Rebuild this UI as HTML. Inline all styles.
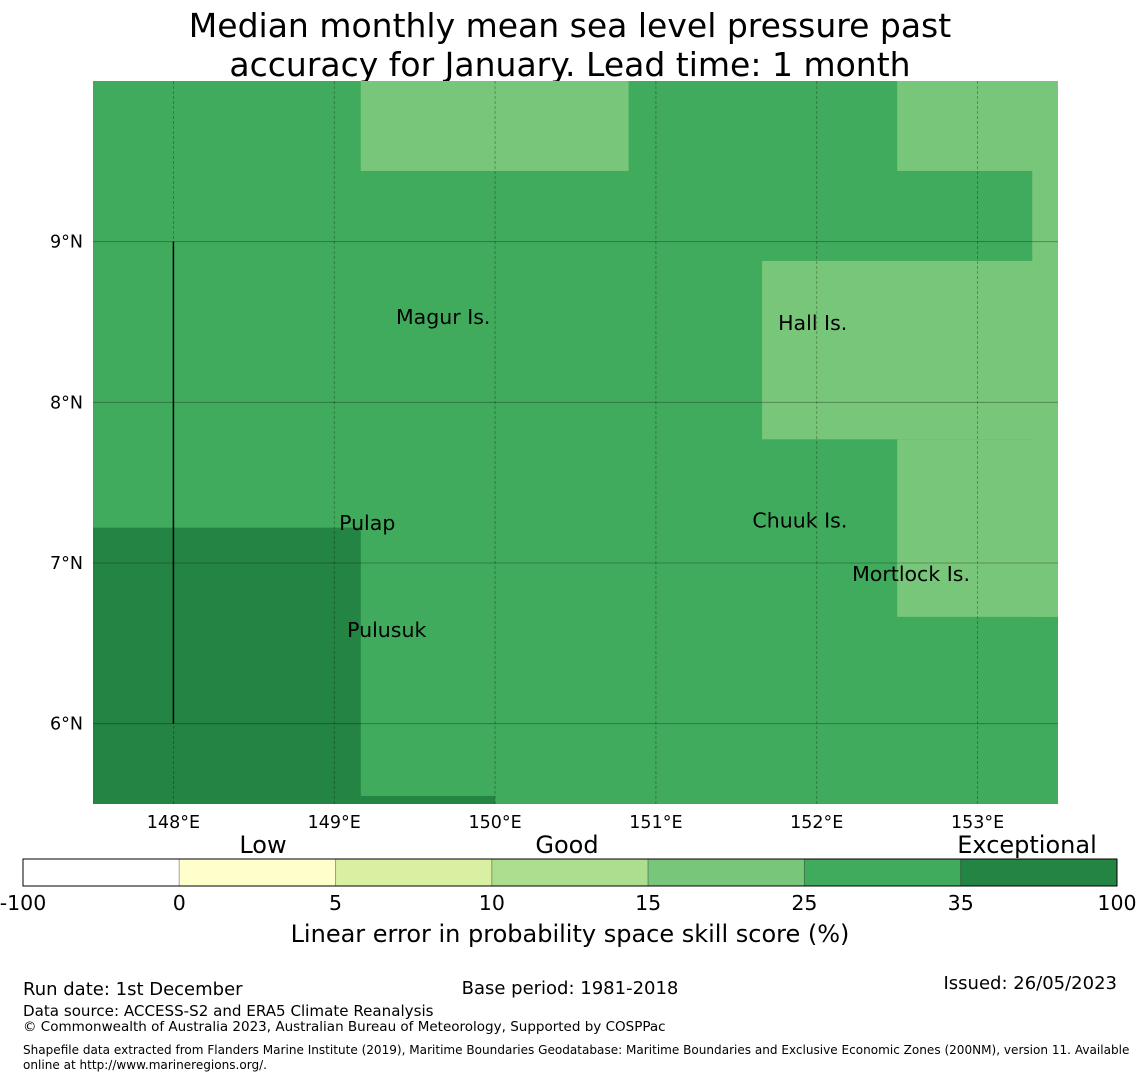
<!DOCTYPE html>
<html><head><meta charset="utf-8"><style>
body{margin:0;background:#fff;font-family:"DejaVu Sans","Liberation Sans",sans-serif;}
svg text{font-family:"DejaVu Sans","Liberation Sans",sans-serif;}
</style></head><body>
<svg id="c" width="1140" height="1080" xmlns="http://www.w3.org/2000/svg">
<text x="570" y="37" font-size="33" text-anchor="middle">Median monthly mean sea level pressure past</text>
<text x="570" y="76" font-size="33" text-anchor="middle">accuracy for January. Lead time: 1 month</text>
<g id="map"></g>
<g id="cb"></g>
<text x="570" y="942" font-size="24" text-anchor="middle">Linear error in probability space skill score (%)</text>
<text x="263" y="853" font-size="24" text-anchor="middle">Low</text>
<text x="567" y="853" font-size="24" text-anchor="middle">Good</text>
<text x="1027" y="853" font-size="24" text-anchor="middle">Exceptional</text>
<text x="23" y="995" font-size="18">Run date: 1st December</text>
<text x="570" y="994" font-size="18" text-anchor="middle">Base period: 1981-2018</text>
<text x="1117" y="989" font-size="18" text-anchor="end">Issued: 26/05/2023</text>
<text x="23" y="1016" font-size="15.1">Data source: ACCESS-S2 and ERA5 Climate Reanalysis</text>
<text x="23" y="1031" font-size="13.5">© Commonwealth of Australia 2023, Australian Bureau of Meteorology, Supported by COSPPac</text>
<text x="23" y="1054" font-size="12.05">Shapefile data extracted from Flanders Marine Institute (2019), Maritime Boundaries Geodatabase: Maritime Boundaries and Exclusive Economic Zones (200NM), version 11. Available</text>
<text x="23" y="1069" font-size="12.05">online at http://www.marineregions.org/.</text>
</svg>
<script>
const lonTicks=[148,149,150,151,152,153];
const latTicks=[6,7,8,9];
// regions: [lon0, lon1, lat0, lat1, colorIndex]
const regionLon0=[149.165,152.5,153.34,151.66,152.5,147.5,149.165];
const regionLon1=[150.83,153.5,153.5,153.5,153.5,149.165,150.0];
const regionLat0=[9.44,9.44,6.665,7.77,6.665,5.5,5.5];
const regionLat1=[10,10,9.44,8.88,7.77,7.22,5.55];
const regionCat=[4,4,4,4,4,6,6];
const places=["Magur Is.","Hall Is.","Pulap","Chuuk Is.","Mortlock Is.","Pulusuk"];
const placeLon=[149.384,151.76,149.03,151.6,152.22,149.08];
const placeLat=[8.488,8.45,7.205,7.22,6.888,6.54];
const cbBounds=["-100","0","5","10","15","25","35","100"];
const cbColors=["#ffffff","#ffffcc","#d9f0a3","#addd8e","#78c679","#41ab5d","#238443"];
const NS="http://www.w3.org/2000/svg";
const X0=93,X1=1058,Y0=81,Y1=804,LON0=147.5,LON1=153.5,LAT0=5.5,LAT1=10;
const xs=l=>X0+(l-LON0)/(LON1-LON0)*(X1-X0);
const ys=l=>Y1-(l-LAT0)/(LAT1-LAT0)*(Y1-Y0);
function mk(t,a,p){const e=document.createElementNS(NS,t);for(const k in a)e.setAttribute(k,a[k]);p.appendChild(e);return e;}
const map=document.getElementById('map');
let bg=mk('rect',{x:X0,y:Y0,width:X1-X0,height:Y1-Y0,fill:"#41ab5d"},map);


regionLon0.forEach((l,i)=>{
 const r=mk('rect',{x:xs(l),y:ys(regionLat1[i]),width:xs(regionLon1[i])-xs(l),height:ys(regionLat0[i])-ys(regionLat1[i]),fill:cbColors[regionCat[i]]},map);
 
 
});
lonTicks.forEach(l=>{
 const g=mk('line',{x1:xs(l),x2:xs(l),y1:Y0,y2:Y1,stroke:"rgba(0,0,0,0.35)","stroke-width":0.8,"stroke-dasharray":"3,2"},map);
 
 
 const t=mk('text',{x:xs(l),y:Y1+24,"font-size":17.5,"text-anchor":"middle"},map);t.textContent=l+"°E";
 
 
});
latTicks.forEach(l=>{
 const g=mk('line',{x1:X0,x2:X1,y1:ys(l),y2:ys(l),stroke:"rgba(0,0,0,0.35)","stroke-width":0.8},map);
 
 
 const t=mk('text',{x:X0-10,y:ys(l)+6,"font-size":17.5,"text-anchor":"end"},map);t.textContent=l+"°N";
 
 
});
let bl=mk('line',{x1:xs(148),x2:xs(148),y1:ys(9),y2:ys(6),stroke:"#000","stroke-width":1.5},map);


places.forEach((p,i)=>{
 const t=mk('text',{x:xs(placeLon[i]),y:ys(placeLat[i]),"font-size":20.5},map);t.textContent=p;
 
 
});
const cb=document.getElementById('cb');
const CX0=23,CX1=1117,CY=859,CH=27,n=cbColors.length,w=(CX1-CX0)/n;
cbColors.forEach((c,i)=>{
 const r=mk('rect',{x:CX0+i*w,y:CY,width:w,height:CH,fill:c,stroke:"rgba(0,0,0,0.25)","stroke-width":1},cb);
 
 
});
let ob=mk('rect',{x:CX0,y:CY,width:CX1-CX0,height:CH,fill:"none",stroke:"#000","stroke-width":1},cb);


cbBounds.forEach((b,i)=>{
 const t=mk('text',{x:CX0+i*w,y:CY+CH+24,"font-size":20.5,"text-anchor":"middle"},cb);t.textContent=b;
 
 
});
</script>
</body></html>
